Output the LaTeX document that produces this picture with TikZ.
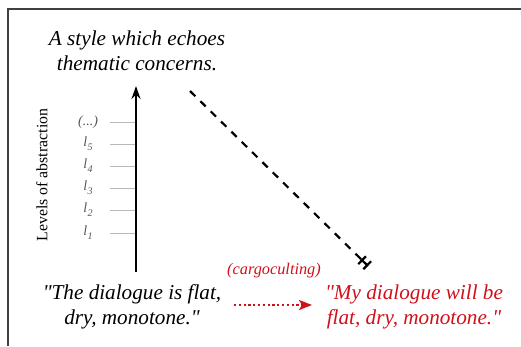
\documentclass[tikz,border=0pt]{standalone}
\usepackage{fontspec}
\setmainfont{Liberation Serif}[Ligatures=TeXOff]
\usetikzlibrary{arrows.meta,calc}
\definecolor{framegray}{HTML}{404040}
\definecolor{tickgray}{HTML}{B8B8B8}
\definecolor{labgray}{HTML}{555555}
\definecolor{cargored}{HTML}{D0101A}
\newcommand{\lvl}[1]{\itshape l\kern0.3pt\raisebox{-0.3em}{\fontsize{10}{10}\selectfont #1}}
\tikzset{
  bigtext/.style={font=\fontsize{21.2}{25}\selectfont\itshape, align=center},
  lvllabel/.style={font=\fontsize{14}{14}\selectfont, text=labgray, anchor=center},
  tickline/.style={draw=tickgray, line width=0.8pt},
}
\begin{document}
\begin{tikzpicture}[x=1pt,y=-1pt]
\useasboundingbox (0,0) rectangle (521,346);
% frame
\draw[framegray, line width=2pt] (7.5,346) -- (7.5,8.5) -- (521,8.5);
% title
\node[bigtext] (title) at (137,51) {A style which echoes\\thematic concerns.};
% axis
\coordinate (axbot) at (136,272);
\coordinate (axtop) at (136,86);
\draw[line width=2.4pt, -{Stealth[length=13pt,width=9pt]}] (axbot) -- (axtop);
% levels label
\node[font=\fontsize{15.8}{15.8}\selectfont, rotate=90] (levels) at (42,175) {Levels of abstraction};
% ticks and labels
\foreach \y/\t [count=\i] in {122/{\itshape(...)},144/{\lvl{5}},166/{\lvl{4}},188/{\lvl{3}},210/{\lvl{2}},233/{\lvl{1}}}{
  \coordinate (tl\i) at (110,\y);
  \coordinate (tr\i) at (135,\y);
  \draw[tickline] (tl\i) -- (tr\i);
  \node[lvllabel] (lab\i) at (88,\y) {\t};
}
% dashed line
\coordinate (dstart) at (190,91);
\coordinate (dend) at (368,266);
\draw[line width=2.2pt, dash pattern=on 7.5pt off 7pt, -{Bar[width=11pt,line width=2.2pt,sep=5pt] Bar[width=11pt,line width=2.2pt]}] (dstart) -- (dend);
\draw[line width=2.2pt] ($(dend)!10pt!(dstart)$) -- ($(dend)!1pt!(dstart)$);
% bottom texts
\node[bigtext] (left) at (132,307) {"The dialogue is flat,\\dry, monotone."};
\node[bigtext, text=cargored] (right) at (414,307) {"My dialogue will be\\flat, dry, monotone."};
\node[font=\fontsize{16.3}{16.3}\selectfont\itshape, text=cargored] (cargo) at (274,271) {(cargoculting)};
\coordinate (astart) at (234,305);
\coordinate (aend) at (312,305);
\draw[cargored, line width=2.2pt, dash pattern=on 2.2pt off 2.6pt, -{Stealth[length=13pt,width=10pt,inset=3pt]}] (astart) -- (aend);
\end{tikzpicture}
\end{document}
